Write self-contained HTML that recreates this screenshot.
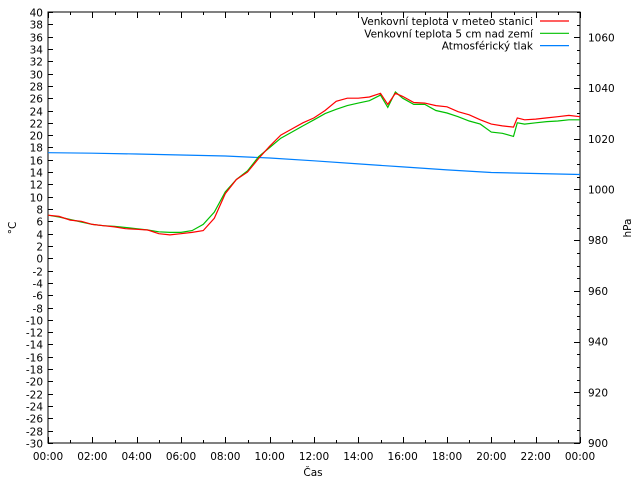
<!DOCTYPE html>
<html><head><meta charset="utf-8"><style>
body{margin:0;background:#fff}
svg text{font-family:"DejaVu Sans","Liberation Sans",sans-serif;font-size:10.5px;fill:#000}
</style></head><body>
<svg id="chart" width="640" height="480" viewBox="0 0 640 480" xmlns="http://www.w3.org/2000/svg">
<rect x="0" y="0" width="640" height="480" fill="#fff"/>
<g id="axes"></g>
<g id="series"></g>
<g id="legend"></g>
</svg>
<script>
const hoursRed=[0,0.5,1,1.5,2,2.5,3,3.5,4,4.5,5,5.5,6,6.5,7,7.5,8,8.5,9,9.5,10,10.5,11,11.5,12,12.5,13,13.5,14,14.5,15,15.33,15.67,16,16.5,17,17.5,18,18.5,19,19.5,20,20.5,21,21.17,21.5,22,22.5,23,23.5,24];
const tempStation=[7.0,6.8,6.2,6.0,5.5,5.3,5.1,4.8,4.7,4.6,4.0,3.8,4.0,4.2,4.5,6.5,10.5,12.8,14.0,16.2,18.2,20.0,21.0,22.0,22.8,24.0,25.5,26.0,26.0,26.2,26.8,25.0,26.8,26.3,25.3,25.2,24.8,24.6,23.8,23.3,22.5,21.8,21.5,21.3,22.8,22.5,22.6,22.8,23.0,23.2,23.0];
const tempGround=[7.0,6.7,6.3,5.9,5.5,5.3,5.2,5.0,4.8,4.6,4.3,4.2,4.2,4.5,5.5,7.5,10.8,12.8,14.2,16.5,18.0,19.5,20.5,21.5,22.5,23.5,24.2,24.8,25.2,25.6,26.5,24.5,27.0,26.0,25.0,25.0,24.0,23.6,23.0,22.3,21.8,20.5,20.3,19.8,22.0,21.8,22.0,22.2,22.3,22.5,22.5];
const hoursP=[0,2,4,6,8,10,12,14,16,18,20,22,24];
const pressure=[1014.5,1014.3,1014.0,1013.6,1013.2,1012.4,1011.3,1010.1,1008.9,1007.7,1006.7,1006.3,1005.9];
const xTickLabels=["00:00","02:00","04:00","06:00","08:00","10:00","12:00","14:00","16:00","18:00","20:00","22:00","00:00"];
const yTicks=[-30,-28,-26,-24,-22,-20,-18,-16,-14,-12,-10,-8,-6,-4,-2,0,2,4,6,8,10,12,14,16,18,20,22,24,26,28,30,32,34,36,38,40];
const y2Ticks=[900,920,940,960,980,1000,1020,1040,1060];

const L=48,R=580,T=12,B=443;
const X=h=>L+(R-L)*h/24;
const Y=v=>B-(B-T)*(v+30)/70;
const Y2=p=>B-(B-T)*(p-900)/170;
const NS="http://www.w3.org/2000/svg";
function mk(tag,attrs,parent){const e=document.createElementNS(NS,tag);for(const k in attrs)e.setAttribute(k,attrs[k]);parent.appendChild(e);return e;}
const axes=document.getElementById('axes'),series=document.getElementById('series'),legend=document.getElementById('legend');

const frame=mk('rect',{x:L,y:T,width:R-L,height:B-T,fill:'none',stroke:'#000','stroke-width':1},axes);



yTicks.forEach(v=>{
  const y=Math.round(Y(v))+0.5;
  mk('line',{x1:L,x2:L+5,y1:y,y2:y,stroke:'#000'},axes);
  const t=mk('text',{x:43,y:y+4,'text-anchor':'end'},axes);
  t.textContent=v;
  
  
});
for(let p=900;p<=1070;p+=5){
  const y=Math.round(Y2(p))+0.5;
  const major=(p%20===0);
  mk('line',{x1:R-(major?6:3),x2:R,y1:y,y2:y,stroke:'#000'},axes);
}
y2Ticks.forEach(p=>{
  const t=mk('text',{x:588,y:Y2(p)+4,'text-anchor':'start'},axes);
  t.textContent=p;
  
  
});
for(let h=0;h<=24;h++){
  const x=Math.round(X(h))+0.5;const len=(h%2===0)?6:3;
  mk('line',{x1:x,x2:x,y1:B,y2:B-len,stroke:'#000'},axes);
  mk('line',{x1:x,x2:x,y1:T,y2:T+len,stroke:'#000'},axes);
}
xTickLabels.forEach((s,i)=>{
  const t=mk('text',{x:X(i*2),y:460,'text-anchor':'middle'},axes);
  t.textContent=s;
  
  
});
let t=mk('text',{x:313,y:476,'text-anchor':'middle'},axes);t.textContent='Čas';


t=mk('text',{x:16,y:228,'text-anchor':'middle',transform:'rotate(-90 16 228)'},axes);t.textContent='°C';


t=mk('text',{x:631,y:228,'text-anchor':'middle',transform:'rotate(-90 631 228)'},axes);t.textContent='hPa';



function line(xs,vs,yf,color,name){
  const pts=xs.map((h,i)=>X(h).toFixed(1)+','+yf(vs[i]).toFixed(1)).join(' ');
  const p=mk('polyline',{points:pts,fill:'none',stroke:color,'stroke-width':1.2},series);
  
  
}
line(hoursP,pressure,Y2,'#0080ff','pressure-line');
line(hoursRed,tempGround,Y,'#00c000','ground-temp-line');
line(hoursRed,tempStation,Y,'#ff0000','station-temp-line');

const entries=[["Venkovní teplota v meteo stanici","#ff0000"],["Venkovní teplota 5 cm nad zemí","#00c000"],["Atmosférický tlak","#0080ff"]];
entries.forEach((e,i)=>{
  const y=21+i*12.3;
  const tx=mk('text',{x:533,y:y+4,'text-anchor':'end'},legend);tx.textContent=e[0];
  
  
  const ln=mk('line',{x1:540,x2:569,y1:y,y2:y,stroke:e[1],'stroke-width':1.2},legend);
  
  
});
</script>
</body></html>
